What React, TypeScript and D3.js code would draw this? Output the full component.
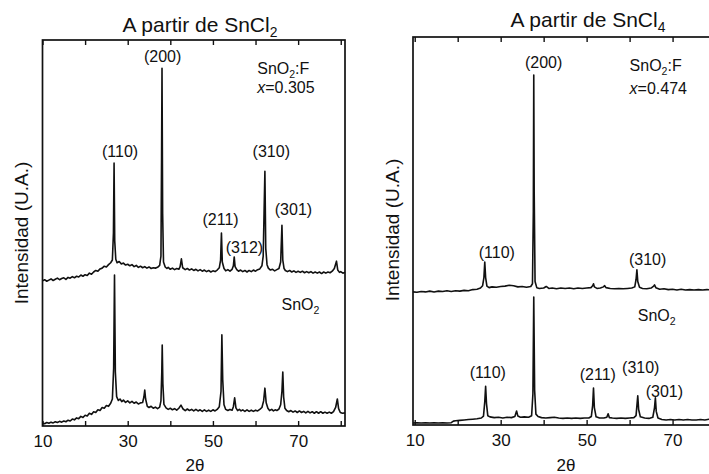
import { useRef, useEffect } from "react";
import * as d3 from "d3";

type Pt = [number, number];
interface Note { text: string; at: number; v: number; anchor?: string; }

const FONT = "'Liberation Sans', Arial, sans-serif";

// 2θ (deg) vs intensity (a.u.)
const cl2Doped: Pt[] = [
  [10.0,37.6],[10.5,37.9],[11.0,37.5],[11.5,37.8],[12.0,38.1],[12.5,37.7],[13.0,38.0],[13.5,38.3],[14.0,37.9],[14.5,38.2],
  [15.0,38.4],[15.5,38.0],[16.0,38.5],[16.5,38.3],[17.0,38.7],[17.5,38.4],[18.0,38.8],[18.5,38.6],[19.0,39.1],[19.5,38.8],
  [20.0,39.2],[20.5,39.0],[21.0,39.6],[21.5,39.3],[22.0,39.9],[22.5,40.3],[23.0,40.1],[23.5,40.7],[24.0,40.9],[24.5,41.4],
  [25.0,41.2],[25.5,41.8],[26.0,42.3],[26.4,43.0],[26.65,50],[26.8,68.1],[26.95,48],[27.2,43.2],[27.5,42.3],[28.0,42.6],
  [28.5,42.0],[29.0,42.2],[29.5,41.7],[30.0,41.9],[30.5,41.5],[31.0,41.8],[31.5,41.3],[32.0,41.6],[32.5,41.1],[33.0,41.4],
  [33.5,41.0],[34.0,41.3],[34.5,40.9],[35.0,41.2],[35.5,40.8],[36.0,41.0],[36.5,40.9],[37.0,41.1],[37.5,41.6],[37.8,44],
  [37.95,70],[38.05,92.7],[38.2,55],[38.4,42.5],[38.8,41.2],[39.2,40.8],[39.5,41.1],[40.0,40.6],[40.5,40.9],[41.0,40.5],
  [41.5,40.8],[42.0,40.6],[42.3,41.3],[42.6,43.3],[42.9,41.0],[43.5,40.5],[44.0,40.8],[44.5,40.4],[45.0,40.7],[45.5,40.3],
  [46.0,40.6],[46.5,40.2],[47.0,40.5],[47.5,40.1],[48.0,40.4],[48.5,40.0],[49.0,40.3],[49.5,39.9],[50.0,40.2],[50.5,40.0],
  [51.0,40.4],[51.5,41.0],[51.8,43],[52.0,50.0],[52.2,42.5],[52.6,40.8],[53.0,40.2],[53.5,40.5],[54.0,40.1],[54.5,40.6],
  [54.8,41.5],[55.0,43.8],[55.2,41.3],[55.6,40.5],[56.0,40.1],[56.5,40.4],[57.0,40.0],[57.5,40.3],[58.0,39.9],[58.5,40.3],
  [59.0,40.0],[59.5,40.4],[60.0,40.1],[60.5,40.5],[61.0,40.7],[61.5,41.5],[61.8,44],[62.0,55],[62.2,66.0],[62.4,46],
  [62.7,41.8],[63.0,40.9],[63.5,40.4],[64.0,40.6],[64.5,40.2],[65.0,40.5],[65.5,40.8],[65.9,42.5],[66.2,52.0],[66.4,43],
  [66.7,40.8],[67.0,40.3],[67.5,40.0],[68.0,40.3],[68.5,39.9],[69.0,40.2],[69.5,39.8],[70.0,40.1],[70.5,39.8],[71.0,40.1],
  [71.5,39.7],[72.0,40.0],[72.5,39.7],[73.0,40.0],[73.5,39.6],[74.0,39.9],[74.5,39.6],[75.0,39.9],[75.5,39.5],[76.0,39.9],
  [76.5,39.6],[77.0,39.9],[77.5,39.7],[78.0,40.1],[78.5,40.8],[79.0,42.7],[79.3,40.4],[79.7,39.8],[80.0,40.0],[80.5,39.6],[81.0,39.8],
];

const cl2Pure: Pt[] = [
  [10.0,0.8],[10.5,0.6],[11.0,0.9],[11.5,0.7],[12.0,1.0],[12.5,0.8],[13.0,1.1],[13.5,0.9],[14.0,1.2],[14.5,1.0],
  [15.0,1.3],[15.5,1.1],[16.0,1.5],[16.5,1.3],[17.0,1.8],[17.5,1.6],[18.0,2.1],[18.5,1.9],[19.0,2.5],[19.5,2.2],
  [20.0,2.8],[20.5,2.6],[21.0,3.3],[21.5,3.0],[22.0,3.7],[22.5,3.5],[23.0,4.2],[23.5,4.0],[24.0,4.8],[24.5,4.6],
  [25.0,5.3],[25.5,5.1],[26.0,5.9],[26.4,7.0],[26.7,15],[26.9,39.1],[27.1,14],[27.4,7.6],[27.8,6.6],[28.2,7.0],
  [28.6,6.3],[29.0,6.7],[29.5,6.1],[30.0,6.5],[30.5,6.0],[31.0,6.4],[31.5,5.9],[32.0,6.2],[32.5,5.7],[33.0,6.0],
  [33.5,6.1],[33.8,7.5],[34.0,9.3],[34.2,7.0],[34.6,5.1],[35.0,4.8],[35.5,5.1],[36.0,4.6],[36.5,4.9],[37.0,4.5],
  [37.5,4.9],[37.8,6.5],[38.0,14],[38.1,21.0],[38.25,11],[38.5,5.6],[39.0,4.7],[39.5,4.3],[40.0,4.6],[40.5,4.2],
  [41.0,4.5],[41.5,4.1],[42.0,4.6],[42.5,5.4],[43.0,4.4],[43.5,4.0],[44.0,4.4],[44.5,4.0],[45.0,4.3],[45.5,3.9],
  [46.0,4.3],[46.5,3.9],[47.0,4.2],[47.5,3.8],[48.0,4.2],[48.5,3.8],[49.0,4.1],[49.5,3.8],[50.0,4.2],[50.5,3.9],
  [51.0,4.3],[51.5,5.0],[51.9,9],[52.1,23.6],[52.3,12],[52.6,5.5],[53.0,4.3],[53.5,4.0],[54.0,4.3],[54.5,4.1],
  [54.8,5.0],[55.1,7.3],[55.4,4.7],[55.8,4.0],[56.2,4.3],[56.6,3.9],[57.0,4.2],[57.5,3.8],[58.0,4.2],[58.5,3.8],
  [59.0,4.1],[59.5,3.8],[60.0,4.1],[60.5,3.9],[61.0,4.3],[61.5,4.8],[61.9,6.5],[62.2,9.8],[62.5,6.0],[62.9,4.6],
  [63.3,4.0],[63.8,4.3],[64.2,3.9],[64.6,4.2],[65.0,4.0],[65.5,4.4],[65.9,5.5],[66.2,9],[66.4,14.0],[66.6,7.5],
  [66.9,4.6],[67.3,4.0],[67.8,3.7],[68.3,4.0],[68.8,3.6],[69.3,3.9],[69.8,3.5],[70.3,3.9],[70.8,3.5],[71.3,3.8],
  [71.8,3.4],[72.3,3.8],[72.8,3.4],[73.3,3.7],[73.8,3.3],[74.3,3.7],[74.8,3.3],[75.3,3.7],[75.8,3.3],[76.3,3.6],
  [76.8,3.3],[77.3,3.6],[77.8,3.3],[78.3,3.7],[78.8,4.8],[79.2,7.0],[79.5,4.5],[79.9,3.5],[80.4,3.3],[81.0,3.4],
];

const cl4Doped: Pt[] = [
  [9.6,34.3],[10.5,34.2],[11.5,34.4],[12.5,34.3],[13.5,34.5],[14.5,34.3],[15.5,34.5],[16.5,34.4],[17.5,34.6],[18.5,34.4],
  [19.5,34.6],[20.5,34.5],[21.5,34.7],[22.5,34.6],[23.5,34.9],[24.5,35.0],[25.3,35.3],[25.8,35.9],[26.1,38],[26.3,42.0],
  [26.5,38],[26.8,35.8],[27.3,35.4],[28.0,35.6],[29.0,35.5],[30.0,35.7],[31.0,35.8],[32.0,36.0],[33.0,35.9],[34.0,35.6],
  [35.0,35.7],[36.0,35.5],[37.0,35.7],[37.4,36.4],[37.6,55],[37.7,90.2],[37.8,60],[38.0,37.0],[38.4,35.4],[39.0,35.2],
  [40.0,35.3],[40.6,35.7],[41.2,35.2],[42.0,35.3],[43.0,35.1],[44.0,35.3],[45.0,35.2],[46.0,35.3],[47.0,35.1],[48.0,35.3],
  [49.0,35.2],[50.0,35.3],[51.0,35.4],[51.4,35.9],[51.6,36.4],[51.8,35.6],[52.4,35.2],[53.2,35.3],[53.9,35.6],[54.2,35.9],
  [54.5,35.4],[55.5,35.2],[56.5,35.1],[57.5,35.2],[58.5,35.1],[59.5,35.2],[60.5,35.3],[61.2,35.6],[61.5,37.5],[61.7,40.0],
  [61.9,37.0],[62.3,35.5],[63.0,35.2],[64.0,35.1],[65.0,35.3],[65.6,35.8],[65.8,36.1],[66.1,35.4],[67.0,35.0],[68.0,35.1],
  [69.0,34.9],[70.0,35.0],[71.0,34.8],[72.0,35.0],[73.0,34.8],[74.0,34.9],[75.0,34.8],[76.0,34.9],[77.0,34.8],[78.0,34.9],
  [79.0,34.8],[80.0,34.9],[81.0,34.8],
];

const cl4Pure: Pt[] = [
  [9.6,0.5],[10.5,0.6],[11.5,0.5],[12.5,0.6],[13.5,0.5],[14.5,0.6],[15.5,0.5],[16.5,0.6],[17.5,0.5],[18.5,0.6],
  [19.0,1.0],[19.5,1.1],[20.5,1.2],[21.5,1.3],[22.5,1.4],[23.5,1.5],[24.5,1.6],[25.5,1.8],[26.0,2.3],[26.3,6],
  [26.5,10.0],[26.7,5.5],[27.0,2.4],[27.5,2.1],[28.5,1.9],[29.5,2.0],[30.5,1.8],[31.5,2.0],[32.5,1.9],[33.3,2.2],
  [33.7,3.6],[34.0,2.3],[34.6,2.0],[35.5,2.1],[36.5,2.0],[37.2,2.4],[37.5,8],[37.7,33.0],[37.9,9],[38.2,2.8],
  [38.7,2.2],[39.5,1.9],[40.5,1.8],[41.5,1.9],[42.5,2.0],[43.5,1.8],[44.5,1.7],[45.5,1.8],[46.5,1.7],[47.5,1.8],
  [48.5,1.7],[49.5,1.8],[50.5,1.8],[51.1,2.2],[51.4,5],[51.6,9.5],[51.8,4.5],[52.2,2.1],[53.0,1.8],[54.0,1.8],
  [54.7,2.0],[55.0,2.9],[55.3,1.9],[56.0,1.8],[57.0,1.7],[58.0,1.8],[59.0,1.7],[60.0,1.8],[61.0,1.9],[61.5,2.4],
  [61.7,5],[61.9,7.5],[62.1,4],[62.5,2.1],[63.5,1.8],[64.5,1.7],[65.4,2.0],[65.8,4.5],[66.0,7.0],[66.2,3.5],
  [66.6,1.8],[67.5,1.4],[68.5,1.3],[69.5,1.4],[70.5,1.3],[71.5,1.4],[72.5,1.3],[73.5,1.4],[74.5,1.3],[75.5,1.3],
  [76.5,1.4],[77.5,1.3],[78.5,1.5],[79.5,1.3],[80.5,1.3],[81.0,1.3],
];

const tickAngles = [10, 20, 30, 40, 50, 60, 70, 80];
const labelAngles = [10, 30, 50, 70];

// "_2" -> subscript, "*x*" -> italic
const cl2Notes: Note[] = [
  { text: "(200)", at: 38.2, v: 94.3 },
  { text: "(110)", at: 28.2, v: 69.7 },
  { text: "(310)", at: 63.7, v: 69.7 },
  { text: "(211)", at: 51.8, v: 52.1 },
  { text: "(312)", at: 57.4, v: 44.8 },
  { text: "(301)", at: 68.9, v: 54.7 },
  { text: "SnO_2:F", at: 60.4, v: 91.2, anchor: "start" },
  { text: "*x*=0.305", at: 60.4, v: 86.3, anchor: "start" },
  { text: "SnO_2", at: 66.1, v: 30.0, anchor: "start" },
];
const cl4Notes: Note[] = [
  { text: "(200)", at: 40.0, v: 92.0 },
  { text: "SnO_2:F", at: 60.0, v: 91.2, anchor: "start" },
  { text: "*x*=0.474", at: 60.0, v: 85.3, anchor: "start" },
  { text: "(110)", at: 29.1, v: 43.0 },
  { text: "(310)", at: 64.2, v: 41.2 },
  { text: "SnO_2", at: 61.9, v: 26.8, anchor: "start" },
  { text: "(110)", at: 27.0, v: 12.1 },
  { text: "(211)", at: 52.6, v: 11.6 },
  { text: "(310)", at: 62.6, v: 13.4 },
  { text: "(301)", at: 68.1, v: 7.2 },
];

function rich(t: d3.Selection<SVGTextElement, unknown, null, undefined>, s: string, fs: number) {
  let shift = 0;
  s.split(/(_\d|\*[^*]+\*)/).filter(Boolean).forEach(p => {
    const ts = t.append("tspan");
    if (p.startsWith("_")) {
      shift = fs * 0.24;
      ts.attr("font-size", fs * 0.66).attr("dy", shift).text(p.slice(1));
      return;
    }
    if (shift) { ts.attr("dy", -shift); shift = 0; }
    if (p.startsWith("*")) ts.attr("font-style", "italic").text(p.slice(1, -1));
    else ts.text(p);
  });
}

interface PanelOpts {
  dom: [number, number]; xr: [number, number]; yr: [number, number];
  series: Pt[][]; notes: Note[]; title: string; titleAt: [number, number];
  ylabAt: [number, number]; xlabX: number;
}

function drawPanel(svg: d3.Selection<SVGSVGElement, unknown, null, undefined>, o: PanelOpts) {
  const x = d3.scaleLinear().domain(o.dom).range(o.xr);
  const y = d3.scaleLinear().domain([0, 100]).range(o.yr);
  const [bot, top] = o.yr;
  const g = svg.append("g");

  const line = d3.line<Pt>().x(d => x(d[0])).y(d => y(d[1]));
  o.series.forEach(s => {
    g.append("path").datum(s).attr("fill", "none").attr("stroke", "#111").attr("stroke-width", 1.6)
      .attr("stroke-linejoin", "round").attr("d", line);
  });

  g.append("rect").attr("x", o.xr[0]).attr("y", top).attr("width", o.xr[1] - o.xr[0]).attr("height", bot - top)
    .attr("fill", "none").attr("stroke", "#111").attr("stroke-width", 1.7);

  const bAx = g.append("g").attr("transform", `translate(0,${bot})`)
    .call(d3.axisBottom(x).tickValues(tickAngles).tickSizeInner(-5).tickSizeOuter(0).tickPadding(9)
      .tickFormat(d => labelAngles.includes(+d) ? String(d) : ""));
  const tAx = g.append("g").attr("transform", `translate(0,${top})`)
    .call(d3.axisTop(x).tickValues(tickAngles).tickSizeInner(-5).tickSizeOuter(0).tickFormat(() => ""));
  [bAx, tAx].forEach(a => {
    a.select(".domain").remove();
    a.selectAll(".tick line").attr("stroke", "#111").attr("stroke-width", 1.4);
  });
  bAx.selectAll("text").attr("fill", "#111").attr("font-size", 17).attr("font-family", FONT);

  g.append("text").attr("x", o.xlabX).attr("y", 471).attr("text-anchor", "middle")
    .attr("font-size", 17).attr("font-family", FONT).attr("fill", "#111").text("2θ");

  g.append("text").attr("transform", `translate(${o.ylabAt[0]},${o.ylabAt[1]}) rotate(-90)`)
    .attr("text-anchor", "middle").attr("font-size", 19).attr("font-family", FONT).attr("fill", "#111")
    .text("Intensidad (U.A.)");

  const tt = g.append("text").attr("x", o.titleAt[0]).attr("y", o.titleAt[1]).attr("text-anchor", "middle")
    .attr("font-size", 21).attr("font-family", FONT).attr("fill", "#111");
  rich(tt, o.title, 21);

  o.notes.forEach(n => {
    const t = g.append("text").attr("x", x(n.at)).attr("y", y(n.v)).attr("text-anchor", n.anchor ?? "middle")
      .attr("font-size", 16).attr("font-family", FONT).attr("fill", "#111");
    rich(t, n.text, 16);
  });
}

export default function App() {
  const ref = useRef<SVGSVGElement>(null);
  useEffect(() => {
    if (!ref.current) return;
    const svg = d3.select(ref.current); svg.selectAll("*").remove();
    drawPanel(svg, {
      dom: [10, 81], xr: [42.5, 345], yr: [426, 40], series: [cl2Doped, cl2Pure], notes: cl2Notes,
      title: "A partir de SnCl_2", titleAt: [200, 32], ylabAt: [28, 233], xlabX: 195,
    });
    drawPanel(svg, {
      dom: [9.6, 81.5], xr: [413, 722], yr: [425, 37], series: [cl4Doped, cl4Pure], notes: cl4Notes,
      title: "A partir de SnCl_4", titleAt: [588, 27], ylabAt: [399, 230], xlabX: 566,
    });
  }, []);
  return (
    <svg ref={ref} width={709} height={474}
      style={{ position: "absolute", left: 0, top: 0, background: "#fff", display: "block" }} />
  );
}
